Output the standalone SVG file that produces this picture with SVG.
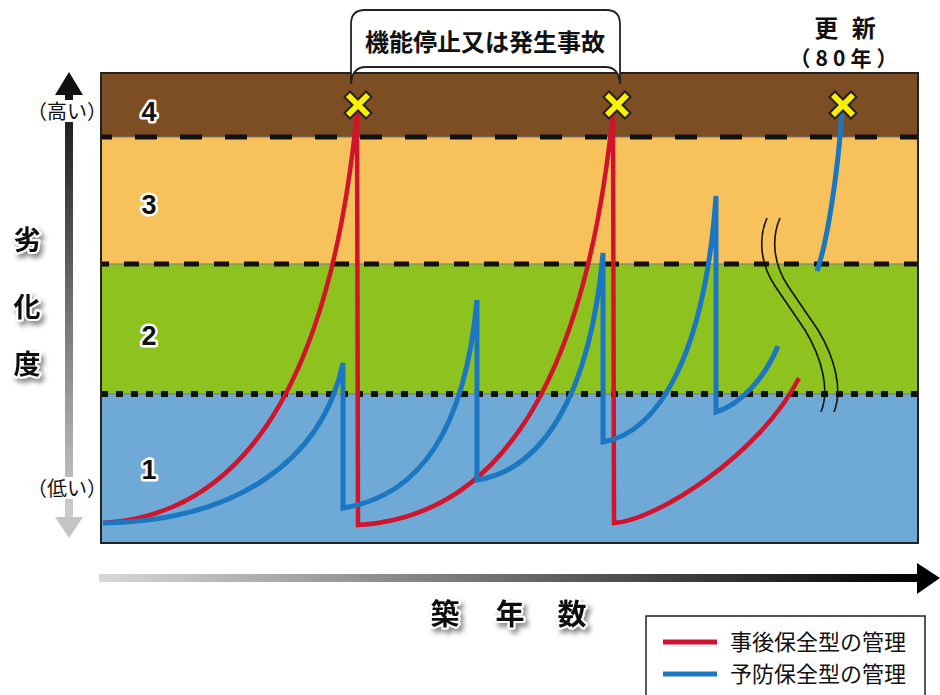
<svg xmlns="http://www.w3.org/2000/svg" width="940" height="695" viewBox="0 0 940 695">
<defs>
<style>
.jp{font-family:"Noto Sans CJK JP","Noto Sans",sans-serif;}
.b{font-weight:bold;}
.num{font-family:"Liberation Sans",Arial,sans-serif;font-weight:bold;font-size:27px;fill:#111;stroke:#fff;stroke-width:5;paint-order:stroke;stroke-linejoin:round;text-anchor:middle;}
.axis{font-family:"Noto Sans CJK JP",sans-serif;font-weight:bold;fill:#111;stroke:#fff;stroke-width:4;paint-order:stroke;stroke-linejoin:round;text-anchor:middle;}
.red{fill:none;stroke:#D0142C;stroke-width:4.5;stroke-linejoin:miter;}
.blue{fill:none;stroke:#1C77C3;stroke-width:5;stroke-linejoin:miter;}
.brk{fill:none;stroke:#111;stroke-width:1.6;}
.xm{fill:#FFF000;stroke:#222;stroke-width:2;stroke-linejoin:miter;}
</style>
<linearGradient id="gv" gradientUnits="userSpaceOnUse" x1="0" y1="90" x2="0" y2="520">
<stop offset="0" stop-color="#111"/><stop offset="1" stop-color="#cfcfcf"/>
</linearGradient>
<linearGradient id="gh" gradientUnits="userSpaceOnUse" x1="99" y1="0" x2="920" y2="0">
<stop offset="0" stop-color="#d8d8d8"/><stop offset="1" stop-color="#000"/>
</linearGradient>
<filter id="sh" x="-30%" y="-30%" width="160%" height="160%">
<feDropShadow dx="3" dy="4" stdDeviation="2.5" flood-color="#000" flood-opacity="0.45"/>
</filter>
<polygon id="xshape" class="xm" points="0,-5.5 8,-13.5 13.5,-8 5.5,0 13.5,8 8,13.5 0,5.5 -8,13.5 -13.5,8 -5.5,0 -13.5,-8 -8,-13.5"/>
</defs>
<rect width="940" height="695" fill="#fff"/>

<g id="chart-bands">
<rect x="101" y="73" width="817" height="64" fill="#7D4E24"/>
<rect x="101" y="137" width="817" height="127" fill="#F7C25C"/>
<rect x="101" y="264" width="817" height="130" fill="#8EC31F"/>
<rect x="101" y="394" width="817" height="149" fill="#6FA9D6"/>
<line x1="101" y1="137" x2="918" y2="137" stroke="#777" stroke-width="1"/>
<line x1="101" y1="264" x2="918" y2="264" stroke="#777" stroke-width="1"/>
<line x1="101" y1="394" x2="918" y2="394" stroke="#777" stroke-width="1"/>
<line x1="101" y1="137" x2="918" y2="137" stroke="#111" stroke-width="5" stroke-dasharray="22 23" stroke-dashoffset="11"/>
<line x1="101" y1="264" x2="918" y2="264" stroke="#111" stroke-width="5" stroke-dasharray="15 15" stroke-dashoffset="7"/>
<line x1="101" y1="394" x2="918" y2="394" stroke="#111" stroke-width="6" stroke-dasharray="7 8"/>
<rect x="101" y="73" width="817" height="470" fill="none" stroke="#222" stroke-width="2"/>
</g>

<g id="level-labels">
<text class="num" x="149" y="121">4</text>
<text class="num" x="149" y="214">3</text>
<text class="num" x="149" y="345">2</text>
<text class="num" x="149" y="479">1</text>
</g>

<g id="callout">
<path d="M351,84 L351,24 Q351,10 365,10 L606,10 Q620,10 620,24 L620,84 Q619,67 605,67 L366,67 Q352,67 351,84 Z" fill="#fff" stroke="#222" stroke-width="1.8"/>
<text class="jp b" x="485" y="51" font-size="24" text-anchor="middle" fill="#111">機能停止又は発生事故</text>
</g>

<g id="renewal-label">
<text class="jp b" x="847" y="37" font-size="24" text-anchor="middle" fill="#111" letter-spacing="4">更 新</text>
<text class="jp b" x="846" y="66" font-size="21" text-anchor="middle" fill="#111" letter-spacing="5">（80年）</text>
</g>

<g id="series-reactive">
<path class="red" d="M103,523 C240,515 330,390 357,112 L358,525 C495,517 585,390 613,112 L614,523 C655,521 760,455 799,378"/>
</g>

<g id="series-preventive">
<path class="blue" d="M103,523 C235,521 322,462 343,363 L343,508 C420,496 465,430 477,300 L477,480 C540,470 590,400 603,253 L603,442 C660,432 705,352 716,196 L716,412 C740,405 765,378 778,346"/>
<path class="blue" d="M817,271 C828,240 838,170 842,112"/>
</g>

<g id="break-mark">
<path class="brk" d="M767,218 C759,236 759,262 775,286 L805,330 C822,358 830,390 821,412"/>
<path class="brk" d="M780,218 C772,236 772,262 788,286 L818,330 C835,358 843,390 834,412"/>
</g>

<g id="failure-marks">
<use href="#xshape" x="358" y="105"/>
<use href="#xshape" x="617" y="105"/>
<use href="#xshape" x="843" y="105"/>
</g>

<g id="y-axis">
<rect x="65" y="92" width="8" height="428" fill="url(#gv)"/>
<polygon points="55,95 83,95 69,72" fill="#111"/>
<polygon points="55,517 83,517 69,538" fill="#c4c4c4"/>
<rect x="36" y="100" width="62" height="22" fill="#fff"/>
<rect x="36" y="477" width="62" height="22" fill="#fff"/>
<text class="jp" x="67" y="119" font-size="20" text-anchor="middle" fill="#111">（高い）</text>
<text class="jp" x="67" y="496" font-size="20" text-anchor="middle" fill="#111">（低い）</text>
<g filter="url(#sh)">
<text class="axis" x="27" y="250" font-size="27">劣</text>
<text class="axis" x="27" y="317" font-size="27">化</text>
<text class="axis" x="27" y="374" font-size="27">度</text>
</g>
</g>

<g id="x-axis">
<rect x="99" y="574" width="822" height="8" fill="url(#gh)"/>
<polygon points="917,563 917,594 940,578" fill="#000"/>
<g filter="url(#sh)">
<text class="axis" x="445" y="625" font-size="29">築</text>
<text class="axis" x="510" y="625" font-size="29">年</text>
<text class="axis" x="572" y="625" font-size="29">数</text>
</g>
</g>

<g id="legend">
<rect x="646" y="616" width="279" height="90" fill="#fff" stroke="#222" stroke-width="1.5"/>
<line x1="663" y1="642" x2="717" y2="642" stroke="#D0142C" stroke-width="5"/>
<text class="jp" x="730" y="650" font-size="22" fill="#111">事後保全型の管理</text>
<line x1="663" y1="674" x2="717" y2="674" stroke="#1C77C3" stroke-width="5"/>
<text class="jp" x="730" y="682" font-size="22" fill="#111">予防保全型の管理</text>
</g>
</svg>
